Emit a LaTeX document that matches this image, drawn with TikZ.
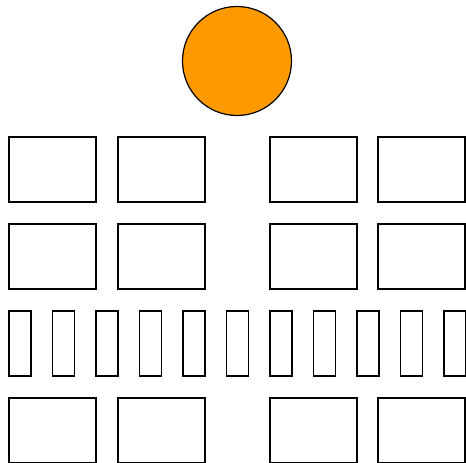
\documentclass[tikz,border=0pt]{standalone}
\usepackage{tikz}
\usetikzlibrary{positioning}

\definecolor{sunorange}{HTML}{FF9900}

\begin{document}
\begin{tikzpicture}[
  x=1pt, y=-1pt,
  seat/.style={rectangle, draw, line width=1.2pt, minimum width=87pt, minimum height=65pt, inner sep=0pt, outer sep=0pt},
  slim/.style={rectangle, draw, line width=1.2pt, minimum width=22pt, minimum height=65pt, inner sep=0pt, outer sep=0pt},
  sun/.style={circle, draw, fill=sunorange, line width=1.2pt, minimum size=109pt, inner sep=0pt}
]
\useasboundingbox (0,0) rectangle (466,463);
\node[sun] (sun) at (237,61) {};
% wide boxes
\foreach \r/\y in {1/137, 2/224, 4/398} {
  \foreach \c/\x in {1/9, 2/118, 3/270, 4/378} {
    \node[seat] (b\r\c) at (\x+43.5,\y+32.5) {};
  }
}
% narrow row
\foreach \i in {0,...,10} {
  \node[slim] (s\i) at (9+43.5*\i+11,343.5) {};
}
\end{tikzpicture}
\end{document}
